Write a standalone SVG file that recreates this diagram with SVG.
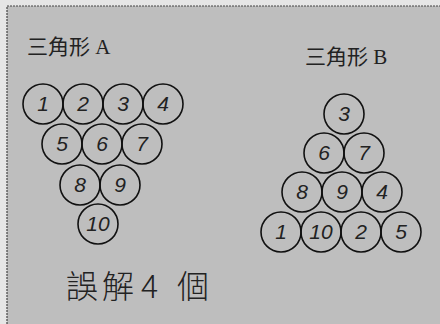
<svg xmlns="http://www.w3.org/2000/svg" width="440" height="324" viewBox="0 0 440 324">
<style>
.ball circle{fill:none;stroke:#111;stroke-width:1.6}
.ball text{font-family:"Liberation Sans","DejaVu Sans",sans-serif;font-size:21px;font-style:italic;fill:#222;text-anchor:middle}
.title{font-family:"Liberation Serif","Noto Sans CJK TC",serif;font-size:21px;fill:#222}
.note{font-family:"Noto Sans CJK TC",sans-serif;font-size:32px;fill:#222;font-weight:300}
</style>
<rect x="0" y="0" width="440" height="324" fill="#e6e6e6"/>
<rect x="7" y="6" width="433" height="318" fill="#bebebe"/>
<path d="M7 324V6H440" fill="none" stroke="#444" stroke-width="1.2" stroke-dasharray="2 1"/>
<text class="title" x="27" y="54">三角形 A</text>
<text class="title" x="305" y="64">三角形 B</text>
<g id="triangleA">
<g id="A1" class="ball"><circle cx="43" cy="104" r="20"/><text x="43" y="111">1</text></g>
<g id="A2" class="ball"><circle cx="83" cy="104" r="20"/><text x="83" y="111">2</text></g>
<g id="A3" class="ball"><circle cx="123" cy="104" r="20"/><text x="123" y="111">3</text></g>
<g id="A4" class="ball"><circle cx="163" cy="104" r="20"/><text x="163" y="111">4</text></g>
<g id="A5" class="ball"><circle cx="62" cy="144" r="20"/><text x="62" y="151">5</text></g>
<g id="A6" class="ball"><circle cx="102" cy="144" r="20"/><text x="102" y="151">6</text></g>
<g id="A7" class="ball"><circle cx="142" cy="144" r="20"/><text x="142" y="151">7</text></g>
<g id="A8" class="ball"><circle cx="80" cy="185" r="20"/><text x="80" y="192">8</text></g>
<g id="A9" class="ball"><circle cx="120" cy="185" r="20"/><text x="120" y="192">9</text></g>
<g id="A10" class="ball"><circle cx="98" cy="224" r="20"/><text x="98" y="231">10</text></g>
</g>
<g id="triangleB">
<g id="B3" class="ball"><circle cx="344" cy="114" r="20"/><text x="344" y="121">3</text></g>
<g id="B6" class="ball"><circle cx="324" cy="153" r="20"/><text x="324" y="160">6</text></g>
<g id="B7" class="ball"><circle cx="364" cy="153" r="20"/><text x="364" y="160">7</text></g>
<g id="B8" class="ball"><circle cx="302" cy="192" r="20"/><text x="302" y="199">8</text></g>
<g id="B9" class="ball"><circle cx="342" cy="192" r="20"/><text x="342" y="199">9</text></g>
<g id="B4" class="ball"><circle cx="382" cy="192" r="20"/><text x="382" y="199">4</text></g>
<g id="B1" class="ball"><circle cx="281" cy="232" r="20"/><text x="281" y="239">1</text></g>
<g id="B10" class="ball"><circle cx="321" cy="232" r="20"/><text x="321" y="239">10</text></g>
<g id="B2" class="ball"><circle cx="361" cy="232" r="20"/><text x="361" y="239">2</text></g>
<g id="B5" class="ball"><circle cx="401" cy="232" r="20"/><text x="401" y="239">5</text></g>
</g>
<g id="connectors"/>
<text class="note" y="298"><tspan x="66">誤</tspan><tspan x="102">解</tspan><tspan x="141">4</tspan><tspan x="177">個</tspan></text>
</svg>
